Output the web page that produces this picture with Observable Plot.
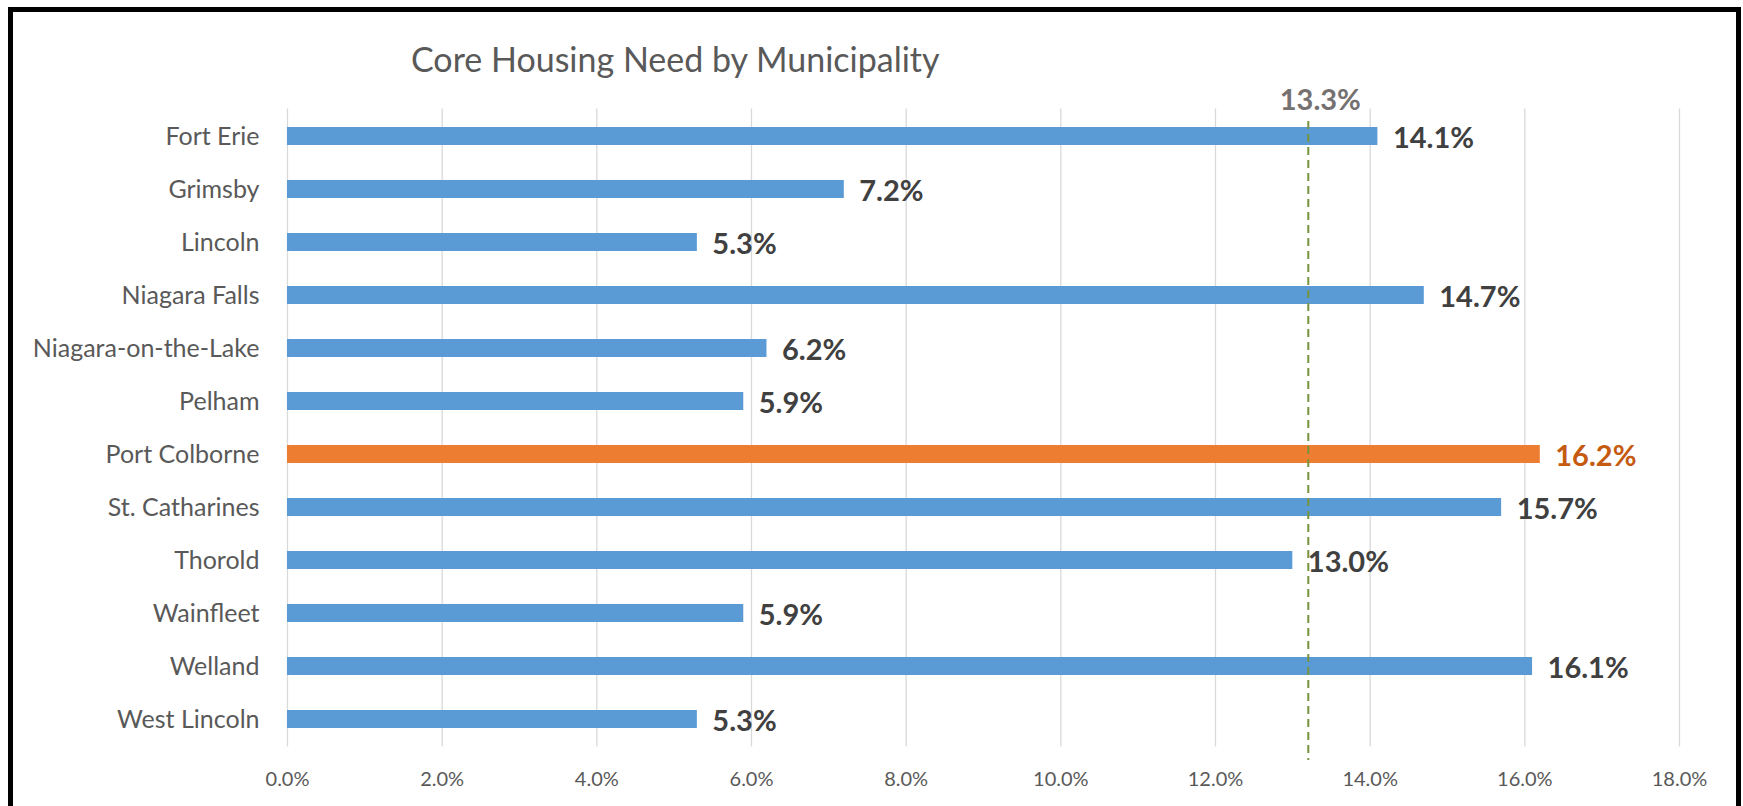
<!DOCTYPE html>
<html>
<head>
<meta charset="utf-8">
<script src="https://cdn.jsdelivr.net/npm/d3@7"></script>
<script src="https://cdn.jsdelivr.net/npm/@observablehq/plot@0.6"></script>
<style>
  html, body { margin: 0; padding: 0; background: #fff; }
  #wrap { position: relative; width: 1743px; height: 806px; overflow: hidden; background: #fff; font-family: Lato, "Open Sans", sans-serif; }
  #frame { position: absolute; left: 8px; top: 7px; width: 1733px; height: 900px; border: 5.5px solid #000; box-sizing: border-box; }
  #title { position: absolute; left: 411px; top: 42px; font-size: 34px; line-height: 34px; color: #595959; white-space: nowrap; }
  #chart { position: absolute; left: 0; top: 0; }
</style>
</head>
<body>
<div id="wrap">
  <div id="frame"></div>
  <div id="title">Core Housing Need by Municipality</div>
  <div id="chart"></div>
</div>
<script>
const municipalities = [
  "Fort Erie", "Grimsby", "Lincoln", "Niagara Falls", "Niagara-on-the-Lake", "Pelham",
  "Port Colborne", "St. Catharines", "Thorold", "Wainfleet", "Welland", "West Lincoln"
];
const needPct = [14.1, 7.2, 5.3, 14.7, 6.2, 5.9, 16.2, 15.7, 13.0, 5.9, 16.1, 5.3];
const highlighted = ["Port Colborne"];
const regionAverage = 13.2;          // where the dashed reference line is drawn
const regionAverageLabel = "13.3%";  // label printed above it
const xTicks = [0, 2, 4, 6, 8, 10, 12, 14, 16, 18];

const rows = municipalities.map((name, i) => ({ name, value: needPct[i], hi: highlighted.includes(name) }));

const chart = Plot.plot({
  width: 1743,
  height: 806,
  marginLeft: 287,
  marginRight: 64,
  marginTop: 108.5,
  marginBottom: 59.5,
  style: { fontFamily: "Lato, 'Open Sans', sans-serif", background: "transparent", overflow: "visible" },
  x: { domain: [0, 18] },
  y: { domain: municipalities, paddingInner: 0.66, paddingOuter: 0.33 },
  color: { type: "identity" },
  marks: [
    Plot.ruleX(xTicks, { x: d => d, stroke: "#d9d9d9", strokeWidth: 1.3 }),
    Plot.barX(rows, { x: "value", y: "name", fill: d => d.hi ? "#ED7D31" : "#5B9BD5" }),
    Plot.ruleX([regionAverage], { x: d => d, stroke: "#77933C", strokeWidth: 2, strokeDasharray: "8,5", insetTop: 12.5, insetBottom: -13.5 }),
    Plot.text(rows, {
      x: "value", y: "name",
      text: d => d.value.toFixed(1) + "%",
      dx: 15, dy: 2, textAnchor: "start",
      fontWeight: "bold", fontSize: 29,
      fill: d => d.hi ? "#C55A11" : "#404040"
    }),
    Plot.text([regionAverage], {
      x: d => d, frameAnchor: "top", lineAnchor: "middle", text: [regionAverageLabel],
      dx: 12, dy: -8, textAnchor: "middle",
      fontWeight: "bold", fontSize: 29, fill: "#767171"
    }),
    Plot.axisX({
      ticks: xTicks, tickSize: 0, tickPadding: 25,
      tickFormat: d => d.toFixed(1) + "%",
      fontSize: 20, color: "#595959", label: null
    }),
    Plot.axisY({
      tickSize: 0, tickPadding: 28, fontSize: 25, color: "#595959", label: null
    })
  ]
});
document.getElementById("chart").appendChild(chart);
</script>
</body>
</html>
